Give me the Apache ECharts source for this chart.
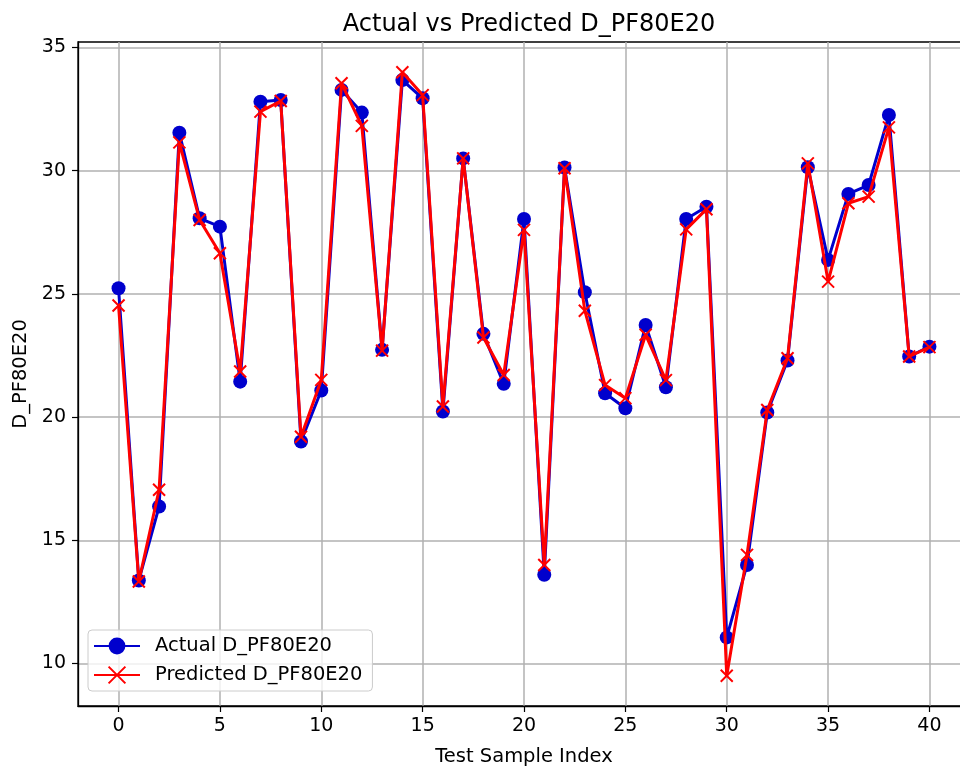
<!DOCTYPE html>
<html>
<head>
<meta charset="utf-8">
<script src="https://cdn.jsdelivr.net/npm/echarts@6/dist/echarts.min.js"></script>
<style>html,body{margin:0;padding:0;background:#fff;overflow:hidden;width:960px;height:767px;}#c{width:980px;height:767px;}</style>
</head>
<body>
<div id="c"></div>
<script>
var actual = [25.23, 13.37, 16.37, 31.54, 28.07, 27.73, 21.44, 32.8, 32.87, 19.01, 21.08, 33.28, 32.36, 22.73, 33.68, 32.94, 20.23, 30.5, 23.38, 21.35, 28.04, 13.6, 30.13, 25.07, 20.97, 20.36, 23.74, 21.21, 28.04, 28.54, 11.06, 14.0, 20.19, 22.3, 30.14, 26.38, 29.06, 29.42, 32.26, 22.46, 22.86];
var predicted = [24.53, 13.33, 17.05, 31.15, 28.0, 26.65, 21.85, 32.4, 32.83, 19.2, 21.51, 33.55, 31.82, 22.7, 34.0, 33.07, 20.43, 30.5, 23.23, 21.71, 27.6, 14.0, 30.1, 24.32, 21.3, 20.77, 23.34, 21.5, 27.62, 28.44, 9.5, 14.41, 20.29, 22.39, 30.3, 25.5, 28.68, 28.95, 31.76, 22.46, 22.84];
var xTicks = [0, 5, 10, 15, 20, 25, 30, 35, 40];
var yTicks = [10, 15, 20, 25, 30, 35];

var F = 'DejaVu Sans';
function pairs(arr) { return arr.map(function (v, i) { return [i, v]; }); }
var allVals = actual.concat(predicted);
var yMinD = Math.min.apply(null, allVals), yMaxD = Math.max.apply(null, allVals);
var yPad = (yMaxD - yMinD) * 0.05;
var xPad = (actual.length - 1) * 0.05;

var chart = echarts.init(document.getElementById('c'), null, {renderer: 'canvas', width: 980, height: 767});
chart.setOption({
  animation: false,
  backgroundColor: '#fff',
  title: {
    text: 'Actual vs Predicted D_PF80E20',
    left: 524, top: 8, textAlign: 'center',
    textStyle: {fontFamily: F, fontSize: 24, fontWeight: 'normal', color: '#000'}
  },
  grid: {left: 78, top: 42, width: 892, height: 664, show: true, borderColor: '#000', borderWidth: 1.3,
         containLabel: false, outerBoundsMode: 'none'},
  legend: {
    orient: 'vertical', left: 88, top: 630,
    padding: [6, 10, 6, 5], itemGap: 9,
    itemWidth: 46, itemHeight: 21,
    borderColor: '#ccc', borderWidth: 1, borderRadius: 4, backgroundColor: 'rgba(255,255,255,0.8)',
    textStyle: {fontFamily: F, fontSize: 19.5, color: '#000', padding: [0, 0, 0, 10]},
    data: ['Actual D_PF80E20', 'Predicted D_PF80E20']
  },
  xAxis: {
    type: 'value', min: -xPad, max: actual.length - 1 + xPad,
    name: 'Test Sample Index', nameLocation: 'middle', nameGap: 41,
    nameTextStyle: {fontFamily: F, fontSize: 19.5, color: '#000'},
    axisLine: {show: true, onZero: false, lineStyle: {color: '#000', width: 1.3}},
    axisTick: {show: true, length: 6, lineStyle: {color: '#000', width: 1.2}, customValues: xTicks},
    axisLabel: {fontFamily: F, fontSize: 19, color: '#000', margin: 11, customValues: xTicks},
    splitLine: {show: true, lineStyle: {color: '#b0b0b0', width: 1.5}}
  },
  yAxis: {
    type: 'value', min: yMinD - yPad, max: yMaxD + yPad,
    name: 'D_PF80E20', nameLocation: 'middle', nameGap: 46, nameRotate: 90,
    nameTextStyle: {fontFamily: F, fontSize: 19.5, color: '#000'},
    axisLine: {show: true, onZero: false, lineStyle: {color: '#000', width: 1.3}},
    axisTick: {show: true, length: 6, lineStyle: {color: '#000', width: 1.2}, customValues: yTicks},
    axisLabel: {fontFamily: F, fontSize: 19, color: '#000', margin: 12, customValues: yTicks},
    splitLine: {show: true, lineStyle: {color: '#b0b0b0', width: 1.5}}
  },
  series: [
    {
      name: 'Actual D_PF80E20', type: 'line', data: pairs(actual),
      symbol: 'circle', symbolSize: 14, showAllSymbol: true,
      lineStyle: {color: '#0000cd', width: 3},
      itemStyle: {color: '#0000cd', borderWidth: 0},
      z: 2
    },
    {
      name: 'Predicted D_PF80E20', type: 'line', data: pairs(predicted),
      symbol: 'path://M0,0L10,10M10,0L0,10', symbolSize: 12, showAllSymbol: true,
      lineStyle: {color: '#ff0000', width: 3},
      itemStyle: {color: '#ff0000', borderColor: '#ff0000', borderWidth: 2},
      z: 3
    }
  ]
});
</script>
</body>
</html>
